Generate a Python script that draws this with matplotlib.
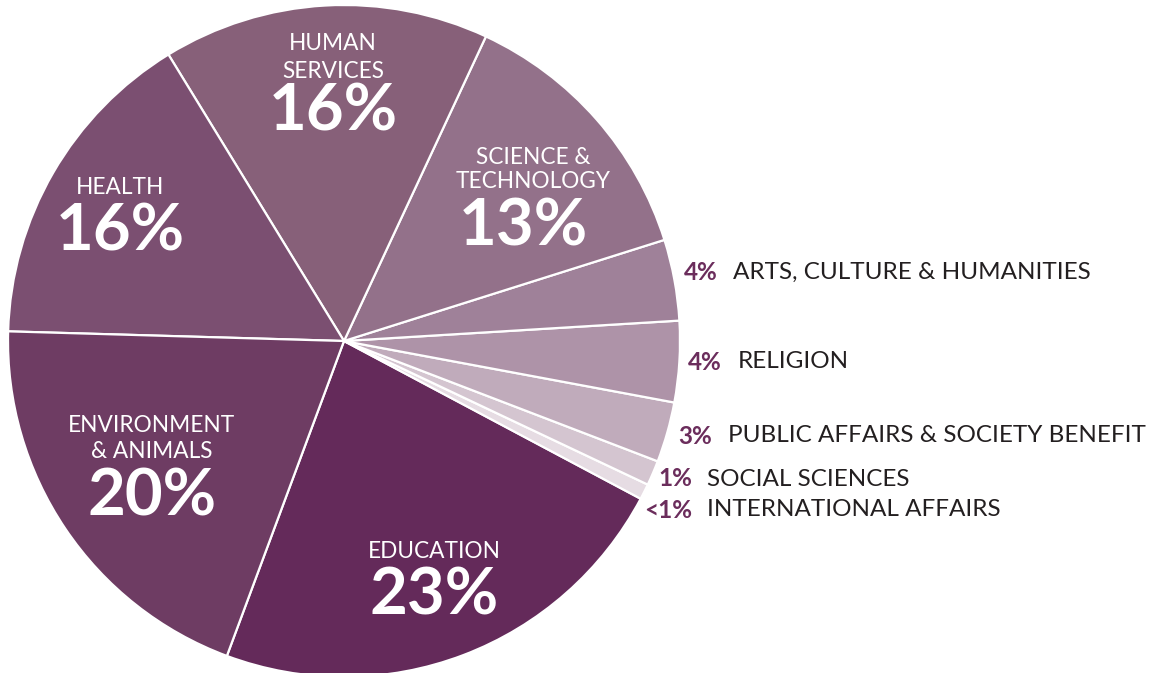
import matplotlib
matplotlib.use("Agg")
import matplotlib.pyplot as plt

# slices, counter-clockwise from the Education start edge
names = ["EDUCATION", "INTERNATIONAL AFFAIRS", "SOCIAL SCIENCES",
         "PUBLIC AFFAIRS & SOCIETY BENEFIT", "RELIGION",
         "ARTS, CULTURE & HUMANITIES", "SCIENCE & TECHNOLOGY",
         "HUMAN SERVICES", "HEALTH", "ENVIRONMENT & ANIMALS"]
values = [22.9, 0.75, 1.2, 2.9, 3.9, 3.9, 13.2, 15.7, 15.8, 19.8]
pct_labels = ["23%", "<1%", "1%", "3%", "4%", "4%", "13%", "16%", "16%", "20%"]
colors = ["#642a5a", "#e6dce3", "#d4c5d0", "#c0abbb", "#ae93a8",
          "#9f8199", "#93718a", "#876079", "#7b4f71", "#6e3c63"]

W, H = 1158, 673
plt.rcParams['font.family'] = ['Lato', 'DejaVu Sans']

fig = plt.figure(figsize=(W / 100, H / 100), dpi=100)
ax = fig.add_axes([0, 0, 1, 1])

cx, cy, r = 344, H - 341, 336
ax.pie(values, colors=colors, startangle=-110.4, counterclock=True,
       center=(cx, cy), radius=r, frame=True,
       wedgeprops=dict(edgecolor="white", linewidth=1.6))
ax.set_xlim(0, W)
ax.set_ylim(0, H)
ax.axis("off")


def y(v):
    return H - v


# labels inside the big slices: (index, name lines, x, y of name, y of pct)
inside = [
    (7, ["HUMAN", "SERVICES"], 333, [44, 71], 112),
    (8, ["HEALTH"], 120, [188], 232),
    (6, ["SCIENCE &", "TECHNOLOGY"], 533, [158, 182], 227),
    (9, ["ENVIRONMENT", "& ANIMALS"], 152, [426, 452], 497),
    (0, ["EDUCATION"], 434, [551], 596),
]
for i, lines, x, ys, yp in inside:
    for line, yy in zip(lines, ys):
        ax.text(x, y(yy), line, color="white", fontsize=16.3,
                ha="center", va="center")
    ax.text(x - (10 if i == 6 else 0), y(yp), pct_labels[i], color="white",
            fontsize=47, fontweight="bold", ha="center", va="center")

# labels outside the small slices: (index, pct right edge, name left, y)
outside = [
    (5, 718, 733, 272),
    (4, 722, 738, 362),
    (3, 712, 728, 436),
    (2, 692, 707, 479),
    (1, 692, 707, 510),
]
for i, xp, xn, yy in outside:
    ax.text(xp, y(yy), pct_labels[i], color="#6b2d5c", fontsize=17.5,
            fontweight="bold", ha="right", va="center")
    ax.text(xn, y(yy), names[i], color="#231f20", fontsize=17.5,
            ha="left", va="center")

fig.savefig("out.png", dpi=100)
